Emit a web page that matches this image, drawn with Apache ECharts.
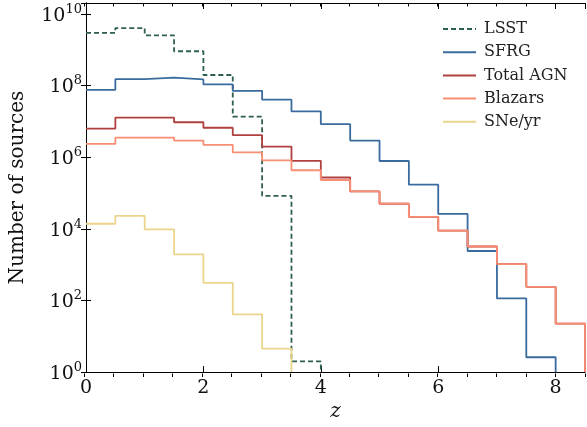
<!DOCTYPE html>
<html><head><meta charset="utf-8">
<script src="https://cdn.jsdelivr.net/npm/echarts@6/dist/echarts.min.js"></script>
<style>html,body{margin:0;padding:0;background:#fff}#c{width:587px;height:427px}</style>
</head><body><div id="c"></div>
<script>
// Bin edges in redshift z (bins of width 0.5)
const binEdges = [0,0.5,1,1.5,2,2.5,3,3.5,4,4.5,5,5.5,6,6.5,7,7.5,8,8.5];
const seriesNames = ['LSST','SFRG','Total AGN','Blazars','SNe/yr'];
// Per-bin counts, starting at z=0
const lsst    = [2.95e9, 4.0e9, 2.5e9, 9.0e8, 1.96e8, 1.35e7, 8.3e4, 2];
const sfrg    = [7.5e7, 1.5e8, 1.66e8, 1.47e8, 1.07e8, 7.1e7, 4.0e7, 1.9e7, 8.3e6, 2.9e6, 7.8e5, 1.7e5, 2.6e4, 2.4e3, 114, 2.6];
const totalAgn= [6.2e6, 1.27e7, 1.27e7, 9.4e6, 6.6e6, 4.1e6, 1.96e6, 7.9e5, 2.7e5, 1.1e5, 5.0e4, 2.15e4, 8.9e3, 3.2e3, 1.03e3, 240, 22.5];
const blazars = [2.33e6, 3.5e6, 3.5e6, 2.9e6, 2.2e6, 1.35e6, 8.1e5, 4.3e5, 2.3e5, 1.1e5, 5.0e4, 2.15e4, 8.9e3, 3.2e3, 1.03e3, 240, 22.5];
const sneYr   = [1.38e4, 2.3e4, 9.6e3, 1.94e3, 310, 41, 4.5];
const xTickLabels = [0,2,4,6,8];
const yTickExponents = [0,2,4,6,8,10];

const FONT = 'DejaVu Serif';
const colors = ['#2f5f4d','#3a6b9e','#b0403f','#f88e73','#ebd58c'];
const seriesValues = [lsst, sfrg, totalAgn, blazars, sneYr];
const yMin = 1, yMax = 2e10;

function stepData(vals){
  const d = vals.map((v,i)=>[binEdges[i], v]);
  const n = vals.length;
  d.push([binEdges[n], vals[n-1]]);
  d.push([binEdges[n], yMin]);
  return d;
}

const series = seriesNames.map((name,i)=>({
  name, type:'line', step:'end', symbol:'none', xAxisIndex:0, yAxisIndex:0,
  data: stepData(seriesValues[i]),
  lineStyle:{color:colors[i], width:1.8, type: i===0 ? [5,3] : 'solid'},
  itemStyle:{color:colors[i]},
  z: 2+i
}));

const gridPos = {left:84, right:2, top:3, bottom:50};
const axisLine = {show:true, lineStyle:{color:'#000', width:1}};

const option = {
  animation:false,
  backgroundColor:'#fff',
  textStyle:{fontFamily:FONT},
  grid:[Object.assign({}, gridPos), Object.assign({}, gridPos)],
  legend:{
    orient:'vertical', left:437, top:16, itemWidth:33, itemHeight:16, itemGap:7.2,
    data:seriesNames,
    itemStyle:{opacity:0},
    textStyle:{fontFamily:FONT, fontSize:16, color:'#222', padding:[0,0,0,3]}
  },
  xAxis:[
    {type:'value', gridIndex:0, position:'bottom', min:0, max:8.5, interval:2,
     axisLine, splitLine:{show:false},
     axisTick:{show:true, inside:true, length:6, lineStyle:{color:'#000'}},
     axisLabel:{show:true, margin:6, fontFamily:FONT, fontSize:19, color:'#111',
       showMaxLabel:false,
       formatter:v=> xTickLabels.indexOf(v)>=0 ? String(v) : ''},
     name:'z', nameLocation:'middle', nameGap:24,
     nameTextStyle:{fontFamily:FONT, fontStyle:'italic', fontSize:20, color:'#111'}},
    {type:'value', gridIndex:0, position:'top', min:0, max:8.5, interval:2,
     axisLine, splitLine:{show:false},
     axisTick:{show:true, inside:true, length:6, lineStyle:{color:'#000'}},
     axisLabel:{show:false}},
    {type:'value', gridIndex:1, position:'bottom', min:0, max:8.5, interval:0.5,
     axisLine:{show:false}, splitLine:{show:false},
     axisTick:{show:true, inside:true, length:3.5, lineStyle:{color:'#000'}},
     axisLabel:{show:false}},
    {type:'value', gridIndex:1, position:'top', min:0, max:8.5, interval:0.5,
     axisLine:{show:false}, splitLine:{show:false},
     axisTick:{show:true, inside:true, length:3.5, lineStyle:{color:'#000'}},
     axisLabel:{show:false}}
  ],
  yAxis:[
    {type:'log', logBase:10, gridIndex:0, position:'left', min:yMin, max:yMax, interval:2,
     axisLine, splitLine:{show:false},
     axisTick:{show:true, inside:true, length:5, lineStyle:{color:'#000'}},
     axisLabel:{show:true, margin:4, showMaxLabel:false,
       formatter:v=>{
         const e = Math.log10(v); const r = Math.round(e);
         if (Math.abs(e-r)>1e-6 || yTickExponents.indexOf(r)<0) return '';
         return '{b|10}{s|'+r+'}';
       },
       rich:{
         b:{fontFamily:FONT, fontSize:19, color:'#111', lineHeight:22, padding:[4,0,0,0]},
         s:{fontFamily:FONT, fontSize:13, color:'#111', lineHeight:16, verticalAlign:'top'}
       }},
     name:'Number of sources', nameLocation:'middle', nameGap:58,
     nameTextStyle:{fontFamily:FONT, fontSize:20, color:'#111'}},
    {type:'log', logBase:10, gridIndex:0, position:'right', min:yMin, max:yMax, interval:2,
     axisLine, splitLine:{show:false},
     axisTick:{show:true, inside:true, length:5, lineStyle:{color:'#000'}},
     axisLabel:{show:false}},
    {type:'value', gridIndex:1, show:false, min:0, max:1}
  ],
  series
};
const chart = echarts.init(document.getElementById('c'), null, {renderer:'canvas'});
chart.setOption(option);
</script>
</body></html>
